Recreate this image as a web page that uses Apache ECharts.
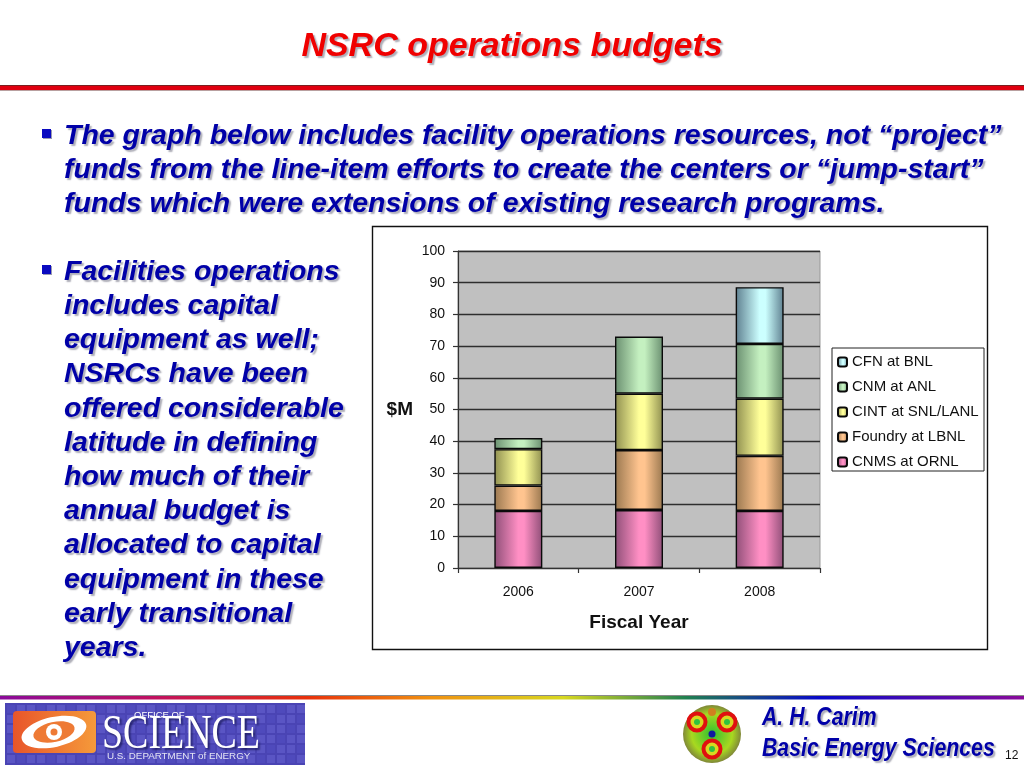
<!DOCTYPE html>
<html><head><meta charset="utf-8">
<style>html,body{margin:0;padding:0;background:#fff}#c{width:1024px;height:768px}</style>
<script src="https://cdn.jsdelivr.net/npm/echarts@6/dist/echarts.min.js"></script>
</head><body><div id="c"></div>
<script>
const years = ['2006','2007','2008'];
const cnms = [18, 18.3, 18];
const foundry = [8, 18.9, 17.4];
const cint = [11.5, 17.8, 18];
const cnm = [3.5, 18, 17.3];
const cfn = [null, null, 17.9];
const legendNames = ['CFN at BNL','CNM at ANL','CINT at SNL/LANL','Foundry at LBNL','CNMS at ORNL'];
const titleText = 'NSRC operations budgets';
const topLines = ['The graph below includes facility operations resources, not “project”',
  'funds from the line-item efforts to create the centers or “jump-start”',
  'funds which were extensions of existing research programs.'];
const sideLines = ['Facilities operations','includes capital','equipment as well;','NSRCs have been','offered considerable','latitude in defining','how much of their','annual budget is','allocated to capital','equipment in these','early transitional','years.'];
const sideY = [272,306,340,374,409,443,477,511,545,580,614,648];
const topY = [136,170,204];

function grad(mid, edge){
  return new echarts.graphic.LinearGradient(0,0,1,0,[
    {offset:0,color:edge},{offset:0.5,color:mid},{offset:0.62,color:mid},{offset:1,color:edge}]);
}
function series(name,data,mid,edge){
  return {name,type:'bar',stack:'t',data,barWidth:48,
    itemStyle:{color:grad(mid,edge),borderColor:'#0a0a0a',borderWidth:1.4}};
}
const shadow = {textShadowColor:'rgba(90,90,110,0.5)',textShadowBlur:1.5,textShadowOffsetX:2,textShadowOffsetY:2};
function blueText(t,x,y){
  return {type:'text',x,y,z:5,style:Object.assign({text:t,fill:'#0000a8',font:'italic bold 28.5px "Liberation Sans"',textVerticalAlign:'middle'},shadow)};
}
function rect(x,y,w,h,fill,z,extra){
  return {type:'rect',z:z||0,shape:{x,y,width:w,height:h},style:Object.assign({fill},extra||{})};
}
const g = [];
// frame and legend box
g.push({type:'rect',z:-10,shape:{x:372.5,y:226.5,width:615,height:423},style:{fill:'#fff',stroke:'#111',lineWidth:1.4}});
g.push({type:'rect',z:-9,shape:{x:832,y:348,width:152,height:123},style:{fill:'#fff',stroke:'#222',lineWidth:1}});
// title and rule
g.push({type:'text',x:512,y:47,z:5,style:Object.assign({text:titleText,fill:'#f00000',font:'italic bold 34px "Liberation Sans"',textAlign:'center',textVerticalAlign:'middle'},shadow)});
g.push(rect(0,85,1024,5,'#e00010',2));
g.push(rect(0,85,1024,1,'#7a2020',3));
g.push(rect(0,90,1024,1,'#b9a0a0',3));
// bullets
[134,270].forEach(y=>{
  g.push(rect(43,y-4,9,9,'#9a9ab0',3));
  g.push(rect(42,y-5,9,9,'#0a0ac0',4));
});
topLines.forEach((t,i)=>g.push(blueText(t,64,topY[i])));
sideLines.forEach((t,i)=>g.push(blueText(t,64,sideY[i])));
// rainbow rule
g.push(rect(0,695,1024,1,'#8a8a8a',3));
g.push(rect(0,696,1024,3.5,new echarts.graphic.LinearGradient(0,0,1,0,[
  {offset:0,color:'#8a0a9a'},{offset:0.15,color:'#c01060'},{offset:0.3,color:'#e8300a'},{offset:0.42,color:'#f09010'},
  {offset:0.55,color:'#d8d820'},{offset:0.67,color:'#208050'},{offset:0.8,color:'#0808c8'},{offset:1,color:'#8a0a9a'}]),2));
// DOE logo
g.push(rect(5,703,300,62,'#4a44b4',2));
for(let i=0;i<30;i++)for(let j=0;j<6;j++){
  g.push(rect(7+i*10,705+j*10,8,8,(i+j)%3?'#5a55c4':'#4f4abc',3));
}
g.push({type:'rect',z:4,shape:{x:13,y:711,width:83,height:42,r:4},style:{fill:new echarts.graphic.LinearGradient(0,0,1,0,[{offset:0,color:'#e8552a'},{offset:1,color:'#f59a3a'}])}});
g.push({type:'ellipse',z:5,rotation:0.22,originX:54,originY:732,shape:{cx:54,cy:732,rx:33,ry:15},style:{fill:'#fff'}});
g.push({type:'ellipse',z:6,rotation:0.22,originX:54,originY:732,shape:{cx:54,cy:732,rx:21,ry:10},style:{fill:'#ee7a35'}});
g.push({type:'circle',z:7,shape:{cx:54,cy:732,r:8},style:{fill:'#fff'}});
g.push({type:'circle',z:8,shape:{cx:54,cy:732,r:3.5},style:{fill:'#ee7a35'}});
g.push({type:'text',x:134,y:715,z:7,style:{text:'OFFICE OF',fill:'#fff',font:'9.5px "Liberation Sans"',textVerticalAlign:'middle'}});
g.push({type:'text',x:102,y:735,z:6,scaleX:0.79,style:{text:'SCIENCE',fill:'#fff',font:'48px "Liberation Serif"',textVerticalAlign:'middle',textShadowColor:'rgba(20,20,80,0.7)',textShadowBlur:2,textShadowOffsetX:2,textShadowOffsetY:2}});
g.push({type:'text',x:107,y:756,z:7,style:{text:'U.S. DEPARTMENT of ENERGY',fill:'#e4e4f4',font:'9.8px "Liberation Sans"',textVerticalAlign:'middle'}});
// globe
g.push({type:'circle',z:3,shape:{cx:712,cy:734,r:29},style:{fill:new echarts.graphic.RadialGradient(0.5,0.5,0.5,[{offset:0,color:'#30c030'},{offset:0.7,color:'#a8d820'},{offset:1,color:'#808838'}])}});
[[697,722],[727,722],[712,749]].forEach(c=>{
  g.push({type:'circle',z:4,shape:{cx:c[0],cy:c[1],r:8.5},style:{fill:'#d8d820',stroke:'#e01010',lineWidth:4}});
  g.push({type:'circle',z:5,shape:{cx:c[0],cy:c[1],r:3},style:{fill:'#30c040'}});
});
g.push({type:'circle',z:5,shape:{cx:712,cy:734,r:3.5},style:{fill:'#1018a0'}});
g.push({type:'circle',z:4,shape:{cx:712,cy:712,r:4},style:{fill:'#d08020'}});
// credits
g.push({type:'text',x:762,y:718,z:5,scaleX:0.85,style:Object.assign({text:'A. H. Carim',fill:'#0000a8',font:'italic bold 25px "Liberation Sans"',textVerticalAlign:'middle'},shadow)});
g.push({type:'text',x:762,y:749,z:5,scaleX:0.85,style:Object.assign({text:'Basic Energy Sciences',fill:'#0000a8',font:'italic bold 25px "Liberation Sans"',textVerticalAlign:'middle'},shadow)});
g.push({type:'text',x:1005,y:756,z:5,style:{text:'12',fill:'#111',font:'12px "Liberation Sans"',textVerticalAlign:'middle'}});

const chart = echarts.init(document.getElementById('c'),null,{renderer:'canvas'});
chart.setOption({
  animation:false,
  backgroundColor:'#fff',
  textStyle:{fontFamily:'"Liberation Sans"'},
  graphic:{elements:g},
  legend:{
    left:832,top:348,orient:'vertical',align:'left',
    data:legendNames,
    padding:[6,0,2,5],itemWidth:9,itemHeight:9,itemGap:9,
    textStyle:{fontSize:15,color:'#111',padding:[0,0,0,0],lineHeight:16}
  },
  grid:{left:458,top:251,width:362,height:317,show:true,backgroundColor:'#c0c0c0',borderColor:'#999',borderWidth:1},
  xAxis:{type:'category',data:years,name:'Fiscal Year',nameLocation:'middle',nameGap:45,
    nameTextStyle:{fontSize:19,fontWeight:'bold',color:'#111'},
    axisLine:{lineStyle:{color:'#333',width:1.2}},
    axisTick:{show:true,alignWithLabel:false,length:5,lineStyle:{color:'#333',width:1.2}},
    axisLabel:{fontSize:14,color:'#111',margin:17}},
  yAxis:{type:'value',min:0,max:100,interval:10,name:'$M',nameLocation:'middle',nameRotate:0,nameGap:45,
    nameTextStyle:{fontSize:19,fontWeight:'bold',color:'#111'},
    axisLine:{show:true,lineStyle:{color:'#333',width:1.2}},
    axisTick:{show:true,length:5,lineStyle:{color:'#333',width:1.2}},
    splitLine:{show:true,lineStyle:{color:'#2e2e2e',width:1.3}},
    axisLabel:{fontSize:14,color:'#111',margin:13}},
  series:[
    series(legendNames[4],cnms,'#ff8fc4','#8f4f78'),
    series(legendNames[3],foundry,'#ffc48f','#9a7850'),
    series(legendNames[2],cint,'#ffff99','#8f8f50'),
    series(legendNames[1],cnm,'#c4f0c0','#6a8f70'),
    series(legendNames[0],cfn,'#ccffff','#5f8090')
  ]
});
</script></body></html>
